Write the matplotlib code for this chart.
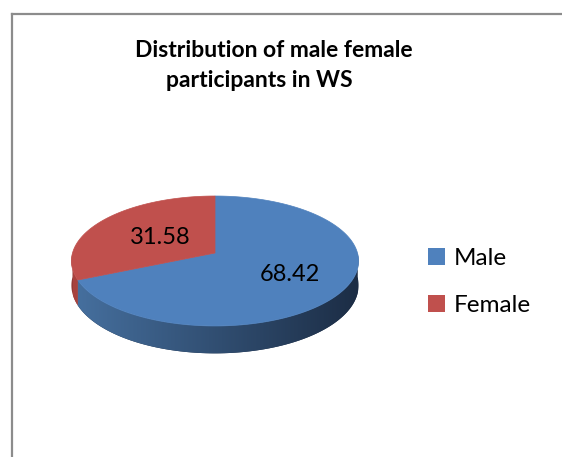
import numpy as np
import matplotlib
matplotlib.use("Agg")
import matplotlib.pyplot as plt
from matplotlib.patches import Polygon, Patch
from matplotlib.lines import Line2D
from matplotlib.colors import LinearSegmentedColormap

# data
labels = ['Male', 'Female']
values = [68.42, 31.58]
colors = ['#4F81BD', '#C0504D']
side_colors = [('#46709f', '#1c2d45'), ('#a8433f', '#933a37')]
label_frac = [0.6, 0.47]
title_lines = ['Distribution of male female', 'participants in WS']

plt.rcParams['font.family'] = ['Lato', 'DejaVu Sans']

W, H = 562, 457
cx, cy = 215, 253      # apex of the top face (pixels)
rx, ry = 142.5, 64     # disc radii
k = 0.123              # perspective strength
depth = 24


def project(t, f=1.0, drop=0.0):
    # point on the tilted disc -> pixel coords, with a bit of perspective
    u = f * np.cos(t)
    v = -f * np.sin(t)
    s = 1.0 / (1.0 - k * v)
    return cx + rx * u * s, cy + ry * v * s + drop * s


fig = plt.figure(figsize=(W / 100, H / 100), dpi=100)
ax = fig.add_axes([0, 0, 1, 1])

total = sum(values)
cum = np.concatenate([[0], np.cumsum(values)]) / total
spans = [(90 - cum[i + 1] * 360, 90 - cum[i] * 360) for i in range(len(values))]

# side walls (only the front half is visible)
for (a, b), (c0, c1) in zip(spans, side_colors):
    for shift in (-360, 0, 360):
        lo, hi = max(a, -180 + shift), min(b, 0 + shift)
        if hi <= lo:
            continue
        t = np.radians(np.linspace(lo, hi, 120))
        xt, yt = project(t)
        xb, yb = project(t, drop=depth)
        pts = np.column_stack([np.concatenate([xt, xb[::-1]]),
                               np.concatenate([yt, yb[::-1]])])
        poly = Polygon(pts, closed=True, facecolor=c1, edgecolor='none', zorder=1)
        ax.add_patch(poly)
        cmap = LinearSegmentedColormap.from_list('side', [c0, c1])
        x0, x1 = project(np.radians(180.0))[0], project(np.radians(0.0))[0]
        im = ax.imshow(np.linspace(0, 1, 256).reshape(1, -1), cmap=cmap,
                       extent=(x0, x1, 400, 150), aspect='auto', zorder=2)
        im.set_clip_path(poly)

# top face
for (a, b), col in zip(spans, colors):
    t = np.radians(np.linspace(a, b, 200))
    xs, ys = project(t)
    pts = np.column_stack([np.concatenate([[cx], xs]), np.concatenate([[cy], ys])])
    ax.add_patch(Polygon(pts, closed=True, facecolor=col, edgecolor=col,
                         linewidth=0.5, zorder=3))

# value labels
for (a, b), val, f in zip(spans, values, label_frac):
    mid = np.radians((a + b) / 2)
    lx, ly = project(mid, f=f)
    ax.text(lx, ly, f'{val:.2f}', ha='center', va='center', fontsize=17,
            color='black', zorder=5)

ax.set_xlim(0, W)
ax.set_ylim(H, 0)
ax.axis('off')

# legend
handles = [Patch(facecolor=c, edgecolor='none') for c in colors]
ax.legend(handles, labels, loc='upper left', bbox_to_anchor=(428 / W, 1 - 248 / H),
          bbox_transform=fig.transFigure, frameon=False, fontsize=17.5,
          handlelength=0.68, handleheight=0.68, handletextpad=0.4,
          labelspacing=1.08, borderpad=0, borderaxespad=0)

# title
fig.text(274 / W, 1 - 57 / H, title_lines[0], ha='center', va='baseline',
         fontsize=16.5, fontweight='bold')
fig.text(259 / W, 1 - 87 / H, title_lines[1], ha='center', va='baseline',
         fontsize=16.5, fontweight='bold')

# chart border (top and left edges show)
fig.add_artist(Line2D([11.5 / W, 1.0], [1 - 14 / H, 1 - 14 / H],
                      transform=fig.transFigure, color='#8c8c8c', lw=1.6))
fig.add_artist(Line2D([11.5 / W, 11.5 / W], [0, 1 - 14 / H],
                      transform=fig.transFigure, color='#8c8c8c', lw=1.6))

fig.savefig('out.png', dpi=100)
